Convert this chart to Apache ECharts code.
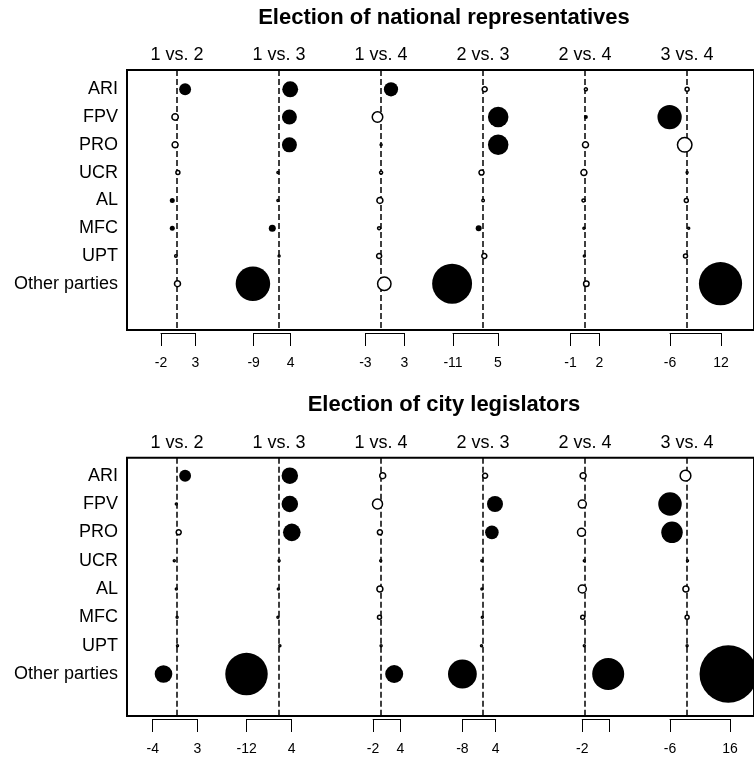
<!DOCTYPE html>
<html>
<head>
<meta charset="utf-8">
<script src="https://cdn.jsdelivr.net/npm/echarts@6/dist/echarts.min.js"></script>
<style>
  html, body { margin: 0; padding: 0; background: #fff; }
  #chart { width: 754px; height: 764px; }
</style>
</head>
<body>
<div id="chart"></div>
<script>
// parties (rows) and pairwise comparisons (columns)
const PARTIES = ['ARI', 'FPV', 'PRO', 'UCR', 'AL', 'MFC', 'UPT', 'Other parties'];
const COMPARISONS = ['1 vs. 2', '1 vs. 3', '1 vs. 4', '2 vs. 3', '2 vs. 4', '3 vs. 4'];

// national representatives: one array of 8 values per comparison
const natValues = [
  [2.85, -0.71, -0.71, 0.28, -1.71, -1.71, -0.43, 0.14],
  [3.95, 3.67, 3.67, -0.43, -0.43, -2.42, 0, -9.32],
  [3.52, -1.28, 0, 0, -0.43, -0.71, -0.71, 1.14],
  [0.57, 5.37, 5.37, -0.57, 0, -1.57, 0.43, -11.03],
  [0.28, 0.28, 0.14, -0.43, -0.57, -0.43, -0.28, 0.43],
  [0, -6.23, -0.85, 0, -0.28, 0.57, -0.57, 11.89]
];
const natSizes = [
  [2.83, 1.26, 1.14, 0.57, 0.86, 0.86, 0.14, 1.14],
  [3.97, 3.71, 3.71, 0, 0, 1.43, 0, 9.29],
  [3.49, 2.43, 0, 0.29, 1.14, 0.29, 0.86, 3.26],
  [0.86, 5.29, 5.29, 0.86, 0.14, 1.14, 0.86, 10.83],
  [0.29, 0.57, 1.14, 1.14, 0.29, 0, 0, 1.0],
  [0.57, 6.37, 3.57, 0, 0.57, 0, 0.57, 11.77]
];
const natFilled = [
  [1, 0, 0, 0, 1, 1, 0, 0],
  [1, 1, 1, 0, 0, 1, 0, 1],
  [1, 0, 0, 0, 0, 0, 0, 0],
  [0, 1, 1, 0, 0, 1, 0, 1],
  [0, 1, 0, 0, 0, 0, 0, 0],
  [0, 1, 0, 0, 0, 0, 0, 1]
];
const natRanges = [[-5.73, 6.48], [-9.07, 4.09], [-5.59, 8.29], [-10.71, 5.30], [-5.2, 5.12], [-6.09, 12.06]];
const natRangeLabels = [['-2', '3'], ['-9', '4'], ['-3', '3'], ['-11', '5'], ['-1', '2'], ['-6', '12']];

// city legislators
const cityValues = [
  [2.85, -0.28, 0.57, -1.0, -0.28, 0, 0.14, -4.84],
  [3.81, 3.81, 4.52, 0, -0.28, -0.43, 0.28, -11.6],
  [0.57, -1.28, -0.43, -0.14, -0.43, -0.57, 0, 4.66],
  [0.71, 4.23, 3.13, -0.43, -0.43, -0.28, -0.57, -7.37],
  [-0.71, -1.0, -1.28, -0.28, -1.0, -0.85, -0.28, 8.22],
  [-0.57, -6.09, -5.37, 0.14, -0.43, 0, 0, 14.66]
];
const citySizes = [
  [2.83, 0, 0.86, 0, 0, 0, 0, 4.46],
  [4.14, 4.14, 4.46, 0, 0, 0, 0, 11.57],
  [1.14, 2.29, 0.86, 0, 1.14, 0.57, 0, 4.57],
  [0.86, 4.0, 3.31, 0, 0, 0, 0, 7.66],
  [1.14, 1.71, 1.71, 0, 1.71, 0.57, 0, 8.57],
  [2.49, 6.14, 5.57, 0, 1.14, 0.57, 0, 15.86]
];
const cityFilled = [
  [1, 0, 0, 0, 0, 0, 0, 1],
  [1, 1, 1, 0, 0, 0, 0, 1],
  [0, 0, 0, 0, 0, 0, 0, 1],
  [0, 1, 1, 0, 0, 0, 0, 1],
  [0, 0, 0, 0, 0, 0, 0, 1],
  [0, 1, 1, 0, 0, 0, 0, 1]
];
const cityRanges = [[-8.68, 7.19], [-11.57, 4.45], [-2.85, 6.87], [-7.37, 4.48], [-1.03, 8.68], [-6.09, 15.27]];
const cityRangeLabels = [['-4', '3'], ['-12', '4'], ['-2', '4'], ['-8', '4'], ['-2', ''], ['-6', '16']];

// layout
const FONT = '"Liberation Sans", Arial, sans-serif';
const PX_PER_UNIT = 2.81;   // same horizontal scale in every column
const COL_X0 = 177.1;       // zero line of first column
const COL_STEP = 102.0;     // distance between zero lines
const FRAME_LEFT = 127;

const PANELS = [
  { title: 'Election of national representatives', titleY: 18, top: 70, height: 260, yMin: -0.695, yMax: 8.667,
    values: natValues, sizes: natSizes, filled: natFilled, ranges: natRanges, labels: natRangeLabels },
  { title: 'Election of city legislators', titleY: 405, top: 457.7, height: 258.3, yMin: -0.635, yMax: 8.482,
    values: cityValues, sizes: citySizes, filled: cityFilled, ranges: cityRanges, labels: cityRangeLabels }
];

const markerSize = w => 2 + 3.5 * w;

const grids = [], xAxes = [], yAxes = [], series = [], graphics = [];

PANELS.forEach(p => {
  // frame with party names
  const fg = grids.length;
  grids.push({ left: FRAME_LEFT, right: -20, top: p.top, height: p.height, show: true,
    borderColor: '#000', borderWidth: 2, backgroundColor: 'transparent' });
  xAxes.push({ gridIndex: fg, type: 'value', min: 0, max: 1, show: false });
  yAxes.push({ gridIndex: fg, type: 'value', inverse: true, min: p.yMin, max: p.yMax,
    axisLine: { show: false }, axisTick: { show: false }, splitLine: { show: false },
    axisLabel: { customValues: PARTIES.map((_, i) => i), formatter: v => PARTIES[Math.round(v)],
      margin: 9, fontSize: 18, color: '#000', fontFamily: FONT } });

  graphics.push({ type: 'text', x: 444, y: p.titleY,
    style: { text: p.title, fill: '#000', font: 'bold 22px ' + FONT, textAlign: 'center', textVerticalAlign: 'middle' } });

  COMPARISONS.forEach((name, k) => {
    const [lo, hi] = p.ranges[k];
    const lab = p.labels[k];
    const g = grids.length;
    grids.push({ left: COL_X0 + k * COL_STEP + lo * PX_PER_UNIT, width: (hi - lo) * PX_PER_UNIT,
      top: p.top, height: p.height });

    const xb = xAxes.length;
    xAxes.push({ gridIndex: g, type: 'value', position: 'bottom', min: lo, max: hi, offset: 3,
      axisLine: { show: true, onZero: false, lineStyle: { color: '#000', width: 1 } },
      axisTick: { show: true, customValues: [lo, hi], length: 13, lineStyle: { color: '#000', width: 1 } },
      axisLabel: { customValues: [lo, hi], formatter: v => (Math.abs(v - lo) < 1e-6 ? lab[0] : lab[1]),
        margin: 23, fontSize: 14, color: '#000', fontFamily: FONT },
      splitLine: { show: false } });
    xAxes.push({ gridIndex: g, type: 'value', position: 'top', min: lo, max: hi,
      axisLine: { show: false, onZero: false }, axisTick: { show: false }, splitLine: { show: false },
      axisLabel: { customValues: [0], formatter: () => name, margin: 6, fontSize: 18, color: '#000', fontFamily: FONT } });

    const yi = yAxes.length;
    yAxes.push({ gridIndex: g, type: 'value', inverse: true, min: p.yMin, max: p.yMax, show: false });

    series.push({
      type: 'scatter', xAxisIndex: xb, yAxisIndex: yi, clip: false, silent: true, z: 3,
      data: p.values[k].map((v, i) => ({
        value: [v, i],
        symbolSize: markerSize(p.sizes[k][i]),
        itemStyle: p.filled[k][i]
          ? { color: '#000', borderWidth: 0, opacity: 1 }
          : { color: '#fff', borderColor: '#000', borderWidth: 1.5, opacity: 1 }
      })),
      markLine: { silent: true, z: 1, symbol: 'none', label: { show: false }, animation: false,
        lineStyle: { color: '#000', type: [6, 3], width: 1.5 },
        data: [{ xAxis: 0 }] }
    });
  });
});

const chart = echarts.init(document.getElementById('chart'));
chart.setOption({
  animation: false,
  backgroundColor: '#fff',
  grid: grids,
  xAxis: xAxes,
  yAxis: yAxes,
  series: series,
  graphic: graphics
});
window.addEventListener('resize', () => chart.resize());
</script>
</body>
</html>
